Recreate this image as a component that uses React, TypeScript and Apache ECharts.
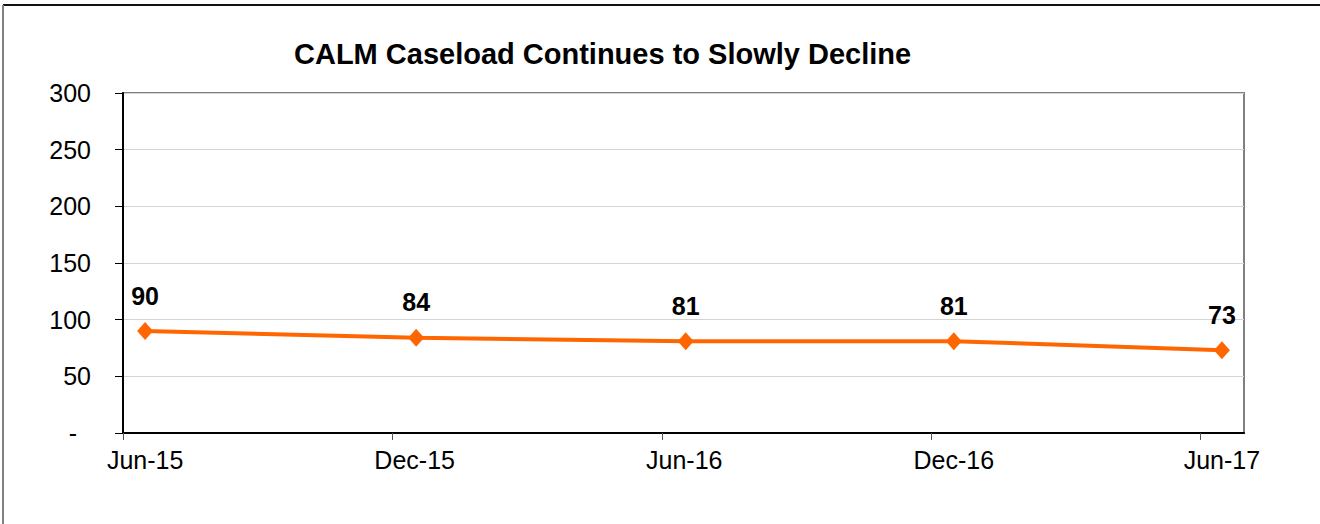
import React, { useEffect, useRef } from "react";
import * as echarts from "echarts";

const chartTitle = "CALM Caseload Continues to Slowly Decline";
const tickLabels = ["Jun-15", "Dec-15", "Jun-16", "Dec-16", "Jun-17"];
const tickDates = ["2015-06-01", "2015-12-01", "2016-06-01", "2016-12-01", "2017-06-01"];
const labelDates = ["2015-06-16", "2015-12-16", "2016-06-16", "2016-12-16", "2017-06-16"];
const axisStart = "2015-06-01";
const axisEnd = "2017-07-01";
const pointDates = ["2015-06-16", "2015-12-17", "2016-06-17", "2016-12-16", "2017-06-16"];
const caseload = [90, 84, 81, 81, 73];
const yTicks = [0, 50, 100, 150, 200, 250, 300];

const ts = (d: string) => Date.parse(d + "T00:00:00Z");

const FONT = "'Liberation Sans', Arial, sans-serif";

export default function App() {
  const ref = useRef<HTMLDivElement>(null);
  useEffect(() => {
    document.body.style.margin = "0";
    if (!ref.current) return;
    const chart = echarts.init(ref.current, null, { renderer: "svg" });
    const tickTs = tickDates.map(ts);
    const labelTs = labelDates.map(ts);
    chart.setOption({
      animation: false,
      backgroundColor: "#ffffff",
      title: {
        text: chartTitle,
        left: 289,
        top: 34,
        textStyle: { fontFamily: FONT, fontSize: 29, fontWeight: "bold", color: "#000" },
      },
      graphic: [
        { type: "line", shape: { x1: 3, y1: 5, x2: 1320, y2: 5 }, style: { stroke: "#111", lineWidth: 2 } },
        { type: "line", shape: { x1: 3, y1: 5, x2: 3, y2: 524 }, style: { stroke: "#808080", lineWidth: 2 } },
      ],
      grid: {
        left: 123,
        top: 93,
        right: 76,
        bottom: 91,
        show: true,
        borderColor: "#808080",
        borderWidth: 2,
        outerBoundsMode: "none",
      },
      xAxis: {
        type: "value",
        min: ts(axisStart),
        max: ts(axisEnd),
        axisLine: { show: true, lineStyle: { color: "#000", width: 2 } },
        axisTick: {
          show: true,
          customValues: tickTs,
          length: 7,
          lineStyle: { color: "#555", width: 1 },
        },
        axisLabel: {
          customValues: labelTs,
          margin: 14,
          fontFamily: FONT,
          fontSize: 25,
          color: "#000",
          formatter: (v: number) => {
            const i = labelTs.indexOf(v);
            return i >= 0 ? tickLabels[i] : "";
          },
        },
        splitLine: { show: false },
      },
      yAxis: {
        type: "value",
        min: yTicks[0],
        max: yTicks[yTicks.length - 1],
        interval: 50,
        axisLine: { show: true, lineStyle: { color: "#000", width: 2 } },
        axisTick: { show: true, length: 8, lineStyle: { color: "#000", width: 1 } },
        axisLabel: {
          margin: 32,
          fontFamily: FONT,
          fontSize: 25,
          color: "#000",
          formatter: (v: number) => (v === 0 ? "-  " : String(v)),
        },
        splitLine: { show: true, lineStyle: { color: "#d4d4d4", width: 1 } },
      },
      series: [
        {
          type: "line",
          data: pointDates.map((d, i) => [ts(d), caseload[i]]),
          symbol: "diamond",
          symbolSize: [16, 18],
          lineStyle: { color: "#FF6600", width: 4 },
          itemStyle: { color: "#FF6600" },
          label: {
            show: true,
            position: "top",
            distance: 14,
            fontFamily: FONT,
            fontSize: 25,
            fontWeight: "bold",
            color: "#000",
            formatter: (p: any) => String(p.value[1]),
          },
        },
      ],
    });
    return () => chart.dispose();
  }, []);
  return <div ref={ref} style={{ width: 1320, height: 524 }} />;
}
